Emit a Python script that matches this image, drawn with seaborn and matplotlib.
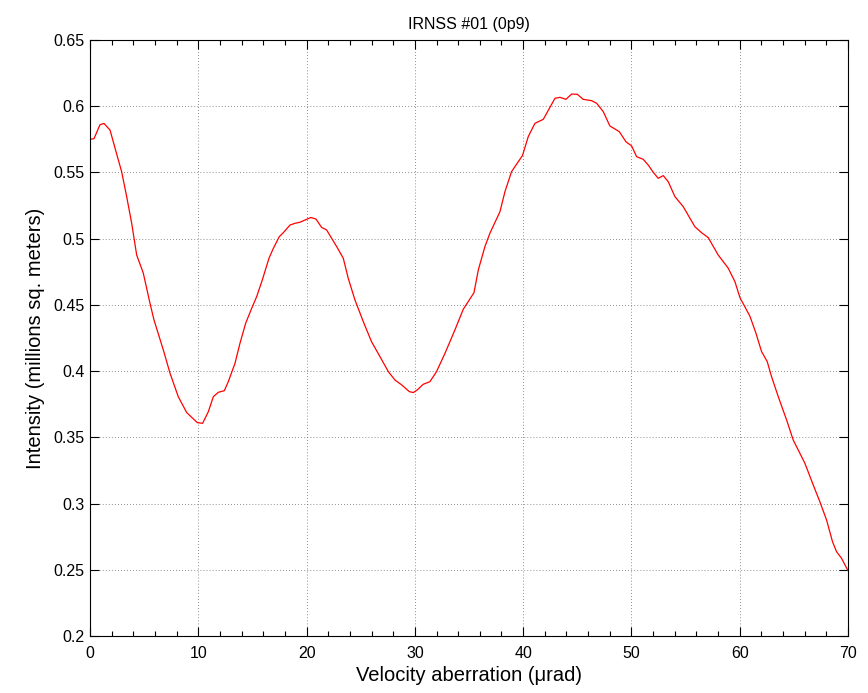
import matplotlib
matplotlib.use("Agg")
import matplotlib.pyplot as plt
import seaborn as sns
import pandas as pd
from matplotlib.ticker import MultipleLocator

aberration = [0.0, 0.37, 0.92, 1.29, 1.85, 2.46, 2.92, 3.38, 3.85, 4.31, 4.92, 5.54, 5.91,
              6.77, 7.39, 8.15, 8.93, 9.91, 10.4, 10.93, 11.39, 11.85, 12.4, 12.77, 13.39,
              13.85, 14.37, 14.93, 15.39, 15.91, 16.53, 16.93, 17.48, 17.85, 18.47, 18.93,
              19.39, 20.0, 20.4, 20.87, 21.39, 21.85, 22.3, 22.78, 23.39, 23.85, 24.47,
              25.24, 26.0, 26.78, 27.55, 28.16, 28.78, 29.49, 29.86, 30.22, 30.78, 31.39,
              32.0, 32.78, 33.7, 34.47, 35.46, 35.86, 36.47, 36.93, 37.86, 38.32, 38.93,
              39.94, 40.47, 41.09, 41.86, 42.94, 43.4, 43.95, 44.48, 45.0, 45.55, 46.32,
              46.79, 47.4, 48.01, 48.88, 49.49, 50.02, 50.48, 51.09, 51.55, 52.02, 52.47,
              52.94, 53.4, 54.02, 54.78, 55.86, 56.48, 57.09, 58.01, 58.94, 59.56, 60.02,
              60.94, 61.5, 62.02, 62.54, 62.94, 63.56, 64.33, 64.94, 66.02, 66.79, 67.4,
              68.02, 68.57, 68.94, 69.4, 70.0]
intensity = [0.575, 0.5755, 0.586, 0.587, 0.582, 0.564, 0.5506, 0.532, 0.5116, 0.4877,
             0.474, 0.4512, 0.4386, 0.416, 0.3984, 0.3807, 0.3687, 0.3611, 0.3606, 0.3694,
             0.3807, 0.384, 0.3852, 0.392, 0.4059, 0.421, 0.436, 0.4474, 0.4562, 0.4688,
             0.4852, 0.4927, 0.5015, 0.5045, 0.5103, 0.5116, 0.5124, 0.5146, 0.516, 0.5148,
             0.5085, 0.5066, 0.5005, 0.494, 0.4852, 0.470, 0.4537, 0.4373, 0.4222, 0.4109,
             0.3996, 0.3933, 0.3896, 0.3845, 0.3838, 0.3858, 0.3901, 0.392, 0.3996, 0.4134,
             0.4311, 0.4467, 0.4592, 0.4764, 0.494, 0.5041, 0.5204, 0.5355, 0.5506, 0.5628,
             0.577, 0.5871, 0.5901, 0.606, 0.6067, 0.6052, 0.6092, 0.609, 0.6052, 0.6042,
             0.6022, 0.5959, 0.5851, 0.5808, 0.5732, 0.570, 0.5619, 0.5599, 0.5556, 0.5501,
             0.5456, 0.5476, 0.543, 0.5317, 0.5242, 0.509, 0.5045, 0.5008, 0.4877, 0.4777,
             0.4675, 0.4555, 0.4415, 0.4286, 0.4147, 0.4072, 0.3958, 0.3807, 0.3631, 0.348,
             0.3304, 0.314, 0.3014, 0.2876, 0.2712, 0.2637, 0.2587, 0.2493]

title = "IRNSS #01 (0p9)"
xlabel = "Velocity aberration (\u03bcrad)"
ylabel = "Intensity (millions sq. meters)"
ytick_labels = ["0.2", "0.25", "0.3", "0.35", "0.4", "0.45", "0.5", "0.55", "0.6", "0.65"]

sns.set_style("ticks")
plt.rcParams["font.family"] = ["Liberation Sans", "DejaVu Sans"]
plt.rcParams["text.color"] = "black"
plt.rcParams["axes.labelcolor"] = "black"

df = pd.DataFrame({"x": aberration, "y": intensity})

fig = plt.figure(figsize=(8.68, 6.93), dpi=100)
ax = fig.add_axes([90 / 868, 1 - 636 / 693, (848 - 90) / 868, (636 - 40) / 693])
sns.lineplot(data=df, x="x", y="y", ax=ax, color="red", linewidth=0.9)

ax.set_xlim(0, 70)
ax.set_ylim(0.2, 0.65)
ax.xaxis.set_major_locator(MultipleLocator(10))
ax.xaxis.set_minor_locator(MultipleLocator(2))
ax.set_yticks([float(t) for t in ytick_labels])
ax.set_yticklabels(ytick_labels)

ax.grid(True, which="major", color="0.3", linestyle=(0, (1, 3)), linewidth=0.55)
for s in ax.spines.values():
    s.set_visible(True)
    s.set_color("black")
    s.set_linewidth(0.8)
ax.tick_params(which="both", direction="in", top=True, right=True, colors="black",
               labelcolor="black", labelsize=11.5, width=0.8)
ax.tick_params(which="major", length=6.5)
ax.tick_params(which="minor", length=3.6)
ax.tick_params(axis="x", pad=7)
ax.tick_params(axis="y", pad=4)

ax.set_title(title, fontsize=11.5, pad=8, color="black")
ax.set_xlabel(xlabel, fontsize=14.5, labelpad=4, color="black")
ax.set_ylabel(ylabel, fontsize=14.5, labelpad=6, color="black")

fig.savefig("out.png", dpi=100, facecolor="white")
